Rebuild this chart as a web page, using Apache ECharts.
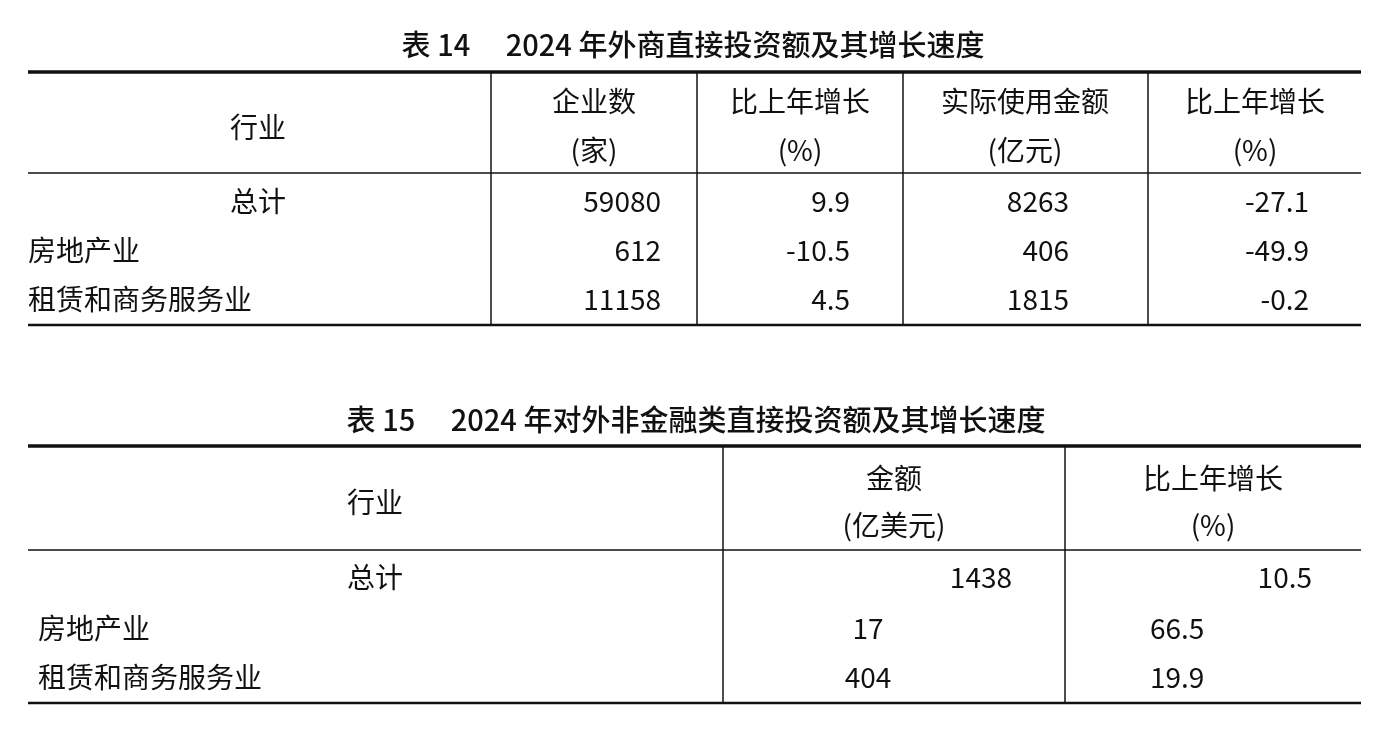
<!DOCTYPE html>
<html><head><meta charset="utf-8">
<script src="https://cdn.jsdelivr.net/npm/echarts@6/dist/echarts.min.js"></script>
<style>html,body{margin:0;padding:0;background:#fff}#c{width:1381px;height:733px}</style>
</head><body><div id="c"></div>
<script>
var t14Title = '表 14　 2024 年外商直接投资额及其增长速度';
var t14Header = [['行业'], ['企业数', '(家)'], ['比上年增长', '(%)'], ['实际使用金额', '(亿元)'], ['比上年增长', '(%)']];
var t14Rows = ['总计', '房地产业', '租赁和商务服务业'];
var t14Firms = ['59080', '612', '11158'];
var t14FirmsGrowth = ['9.9', '-10.5', '4.5'];
var t14Amount = ['8263', '406', '1815'];
var t14AmountGrowth = ['-27.1', '-49.9', '-0.2'];

var t15Title = '表 15　 2024 年对外非金融类直接投资额及其增长速度';
var t15Header = [['行业'], ['金额', '(亿美元)'], ['比上年增长', '(%)']];
var t15Rows = ['总计', '房地产业', '租赁和商务服务业'];
var t15Amount = ['1438', '17', '404'];
var t15Growth = ['10.5', '66.5', '19.9'];

var F = '"Noto Sans CJK SC", "Noto Sans", sans-serif';
var FS = 28;
var g = [];
function txt(s, x, y, align, bold) {
  g.push({type: 'text', x: x, y: y, style: {text: s, font: (bold ? '500 29px ' : FS + 'px ') + F, fill: '#111', textAlign: align, textVerticalAlign: 'middle'}});
}
function line(x1, y1, x2, y2, w) {
  g.push({type: 'line', shape: {x1: x1, y1: y1, x2: x2, y2: y2}, style: {stroke: '#111', lineWidth: w}});
}
var L = 28, R = 1361;

txt(t14Title, 693, 45, 'center', true);
line(L, 72, R, 72, 3.5); line(L, 173, R, 173, 1.5); line(L, 325, R, 325, 2.5);
[491, 697, 903, 1148].forEach(function (x) { line(x, 72, x, 325, 1.5); });
var hc14 = [258, 594, 800, 1025, 1255];
t14Header.forEach(function (h, i) {
  if (h.length === 1) txt(h[0], hc14[i], 127, 'center');
  else { txt(h[0], hc14[i], 101, 'center'); txt(h[1], hc14[i], 150, 'center'); }
});
var ry14 = [201, 250, 299];
t14Rows.forEach(function (r, i) {
  if (i === 0) txt(r, 258, ry14[i], 'center'); else txt(r, L, ry14[i], 'left');
  txt(t14Firms[i], 661, ry14[i], 'right');
  txt(t14FirmsGrowth[i], 850, ry14[i], 'right');
  txt(t14Amount[i], 1069, ry14[i], 'right');
  txt(t14AmountGrowth[i], 1309, ry14[i], 'right');
});

txt(t15Title, 696, 420, 'center', true);
line(L, 446, R, 446, 3.5); line(L, 550, R, 550, 1.5); line(L, 703, R, 703, 2.5);
[723, 1065].forEach(function (x) { line(x, 446, x, 703, 1.5); });
var hc15 = [375, 894, 1213];
t15Header.forEach(function (h, i) {
  if (h.length === 1) txt(h[0], hc15[i], 502, 'center');
  else { txt(h[0], hc15[i], 478, 'center'); txt(h[1], hc15[i], 525, 'center'); }
});
var ry15 = [577, 628, 677];
t15Rows.forEach(function (r, i) {
  if (i === 0) txt(r, 375, ry15[i], 'center'); else txt(r, 38, ry15[i], 'left');
  if (i === 0) txt(t15Amount[i], 1012, ry15[i], 'right'); else txt(t15Amount[i], 868, ry15[i], 'center');
  if (i === 0) txt(t15Growth[i], 1312, ry15[i], 'right'); else txt(t15Growth[i], 1150, ry15[i], 'left');
});

var chart = echarts.init(document.getElementById('c'));
chart.setOption({backgroundColor: '#fff', graphic: {elements: g}});
</script></body></html>
